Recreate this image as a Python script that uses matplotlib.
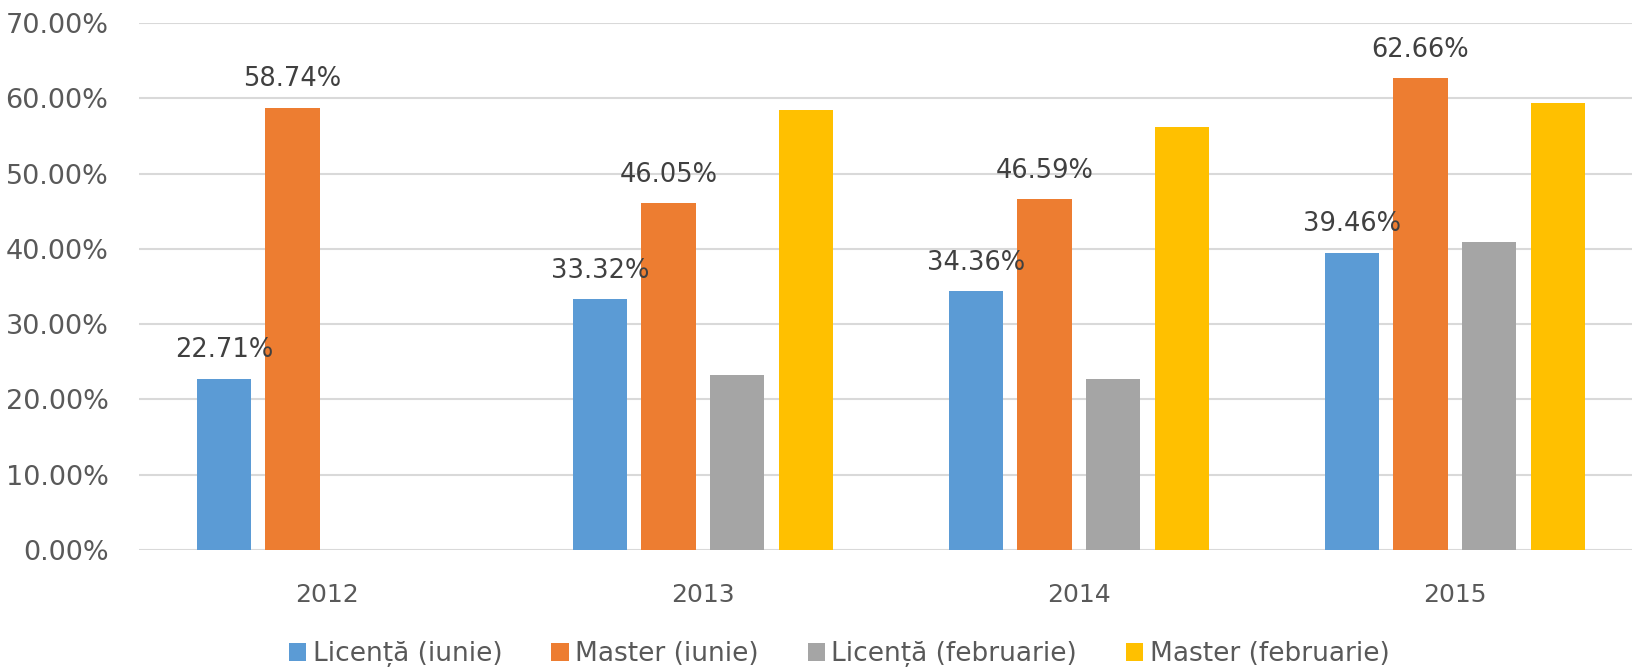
import numpy as np
import matplotlib.pyplot as plt
from matplotlib.ticker import FuncFormatter

# values (fractions)
years = ["2012", "2013", "2014", "2015"]
licenta_iunie = [0.2271, 0.3332, 0.3436, 0.3946]
master_iunie = [0.5874, 0.4605, 0.4659, 0.6266]
licenta_feb = [np.nan, 0.2318, 0.2266, 0.4085]
master_feb = [np.nan, 0.5837, 0.5616, 0.5941]
series_names = ["Licență (iunie)", "Master (iunie)", "Licență (februarie)", "Master (februarie)"]
colors = ["#5B9BD5", "#ED7D31", "#A5A5A5", "#FFC000"]


def main():
    fig = plt.figure(figsize=(16.33, 6.69), dpi=100)
    ax = fig.add_axes([0.0851, 0.178, 0.921, 0.7877])

    x = np.arange(len(years))
    step = 0.183
    width = 0.144
    all_series = [licenta_iunie, master_iunie, licenta_feb, master_feb]
    bars = []
    for i, vals in enumerate(all_series):
        b = ax.bar(x + (i - 1.5) * step, vals, width, color=colors[i],
                   label=series_names[i], zorder=2)
        bars.append(b)

    # data labels only for the June series
    for i in (0, 1):
        for xi, v in zip(x + (i - 1.5) * step, all_series[i]):
            ax.annotate("{:.2f}%".format(v * 100), (xi, v), xytext=(0, 20.5),
                        textcoords="offset points", ha="center", va="center",
                        fontsize=18.5, color="#404040")

    ax.set_ylim(0, 0.7)
    ax.set_xlim(-0.5, 3.5)
    ax.set_yticks(np.arange(0, 0.71, 0.1))
    ax.yaxis.set_major_formatter(FuncFormatter(lambda v, p: "{:.2f}%".format(v * 100)))
    ax.set_xticks(x)
    ax.set_xticklabels(years)
    ax.tick_params(axis="y", length=0, pad=22, labelsize=19.5, labelcolor="#595959")
    ax.tick_params(axis="x", length=0, pad=24, labelsize=18, labelcolor="#595959")
    ax.grid(axis="y", color="#D9D9D9", linewidth=1.5, zorder=0)
    ax.set_axisbelow(True)
    for s in ax.spines.values():
        s.set_visible(False)

    leg = fig.legend(handles=bars, labels=series_names, loc="center",
                     bbox_to_anchor=(0.514, 0.022), ncol=4, frameon=False,
                     handlelength=0.65, handleheight=0.65,
                     handletextpad=0.25, columnspacing=1.85,
                     prop={"family": "DejaVu Sans", "size": 19})
    for t in leg.get_texts():
        t.set_color("#595959")

    fig.savefig("out.png", dpi=100)


if __name__ == "__main__":
    main()
